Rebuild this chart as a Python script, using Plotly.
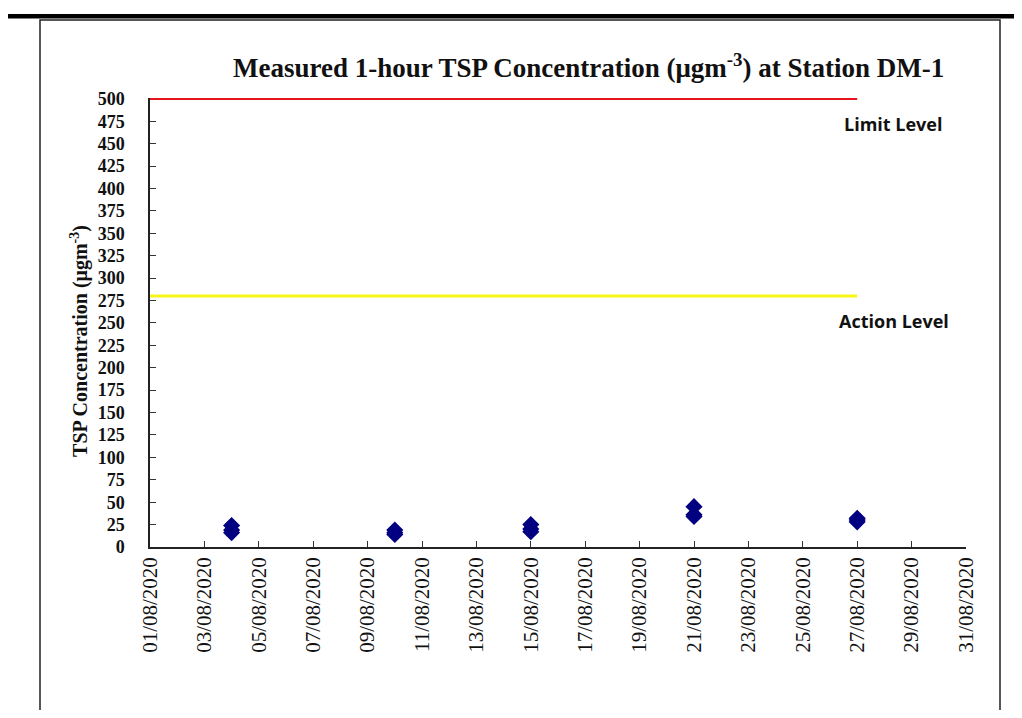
import plotly.graph_objects as go

# ---------------- data ----------------
sample_dates = ["2020-08-04", "2020-08-04", "2020-08-04",
                "2020-08-10", "2020-08-10", "2020-08-10",
                "2020-08-15", "2020-08-15", "2020-08-15",
                "2020-08-21", "2020-08-21", "2020-08-21",
                "2020-08-27", "2020-08-27", "2020-08-27"]
tsp_values = [24, 19, 16,
              19, 16, 14,
              25, 20, 17,
              45, 36, 34,
              32, 30, 28]

limit_level = 500
action_level = 280
level_dates = ["2020-08-01", "2020-08-27"]

tick_dates = ["2020-08-%02d" % d for d in range(1, 32, 2)]
tick_labels = ["%02d/08/2020" % d for d in range(1, 32, 2)]
y_ticks = list(range(0, 501, 25))

# ---------------- layout geometry ----------------
OFF = 8                       # page body margin
W, H = 1022 - OFF, 718 - 2 * OFF
PL, PR, PT, PB = 150, 966, 98.1, 547   # plot area in screen pixels
Y_TOP = 501


def px(x):
    return (x - PL) / (PR - PL)


def py(y):
    return (PB - y) / (PB - PT)


fig = go.Figure()

fig.add_trace(go.Scatter(
    x=level_dates, y=[limit_level] * len(level_dates), mode="lines",
    line=dict(color="#E8141B", width=2), hoverinfo="skip", showlegend=False))
fig.add_trace(go.Scatter(
    x=level_dates, y=[action_level] * len(level_dates), mode="lines",
    line=dict(color="#F5F516", width=3), hoverinfo="skip", showlegend=False))

fig.add_trace(go.Scatter(
    x=sample_dates, y=tsp_values, mode="markers",
    marker=dict(symbol="diamond", size=11, color="#000080",
                line=dict(color="#000080", width=2)),
    cliponaxis=False, showlegend=False))

serif = "Liberation Serif"

fig.update_layout(
    width=W, height=H,
    margin=dict(l=PL - OFF, r=W - (PR - OFF), t=PT - OFF, b=H - (PB - OFF), pad=0),
    paper_bgcolor="white", plot_bgcolor="white",
    showlegend=False,
    xaxis=dict(
        type="date", range=["2020-08-01", "2020-08-31"],
        tickmode="array", tickvals=tick_dates, ticktext=tick_labels,
        tickangle=-90, ticks="inside", ticklen=6, tickwidth=1, tickcolor="#333",
        showline=True, linecolor="#222", linewidth=1.5, mirror=False,
        showgrid=False, zeroline=False,
        tickfont=dict(family=serif, size=21, color="#111"),
    ),
    yaxis=dict(
        range=[0, Y_TOP], tickmode="array", tickvals=y_ticks,
        ticks="inside", ticklen=6, tickwidth=1, tickcolor="#333",
        showline=True, linecolor="#222", linewidth=1.5,
        showgrid=False, zeroline=False, ticklabelstandoff=20,
        tickfont=dict(family=serif, size=18, color="#111", weight="bold"),
    ),
)

# border box and top rule
fig.add_shape(type="rect", xref="paper", yref="paper",
              x0=px(40), x1=px(1000), y0=py(716), y1=py(20),
              line=dict(color="#222", width=1.5), fillcolor="rgba(0,0,0,0)", layer="below")
fig.add_shape(type="rect", xref="paper", yref="paper",
              x0=px(6), x1=px(1030), y0=py(18.5), y1=py(14),
              line=dict(width=0), fillcolor="black")

# title
fig.add_annotation(
    xref="paper", yref="paper", x=px(588), y=py(66),
    text="<b>Measured 1-hour TSP Concentration (μgm<sup>-3</sup>) at Station DM-1</b>",
    showarrow=False, xanchor="center", yanchor="middle",
    font=dict(family=serif, size=27, color="#111"))

# y-axis title
fig.add_annotation(
    xref="paper", yref="paper", x=px(80), y=py(341), textangle=-90,
    text="<b>TSP Concentration (μgm<sup>-3</sup>)</b>",
    showarrow=False, xanchor="center", yanchor="middle",
    font=dict(family=serif, size=20, color="#111"))

# level labels
fig.add_annotation(
    xref="paper", yref="paper", x=px(893), y=py(124), text="<b>Limit Level</b>",
    showarrow=False, xanchor="center", yanchor="middle",
    font=dict(family="Open Sans", size=18, color="#111"))
fig.add_annotation(
    xref="paper", yref="paper", x=px(894), y=py(321), text="<b>Action Level</b>",
    showarrow=False, xanchor="center", yanchor="middle",
    font=dict(family="Open Sans", size=18, color="#111"))

fig.write_html("out.html")
